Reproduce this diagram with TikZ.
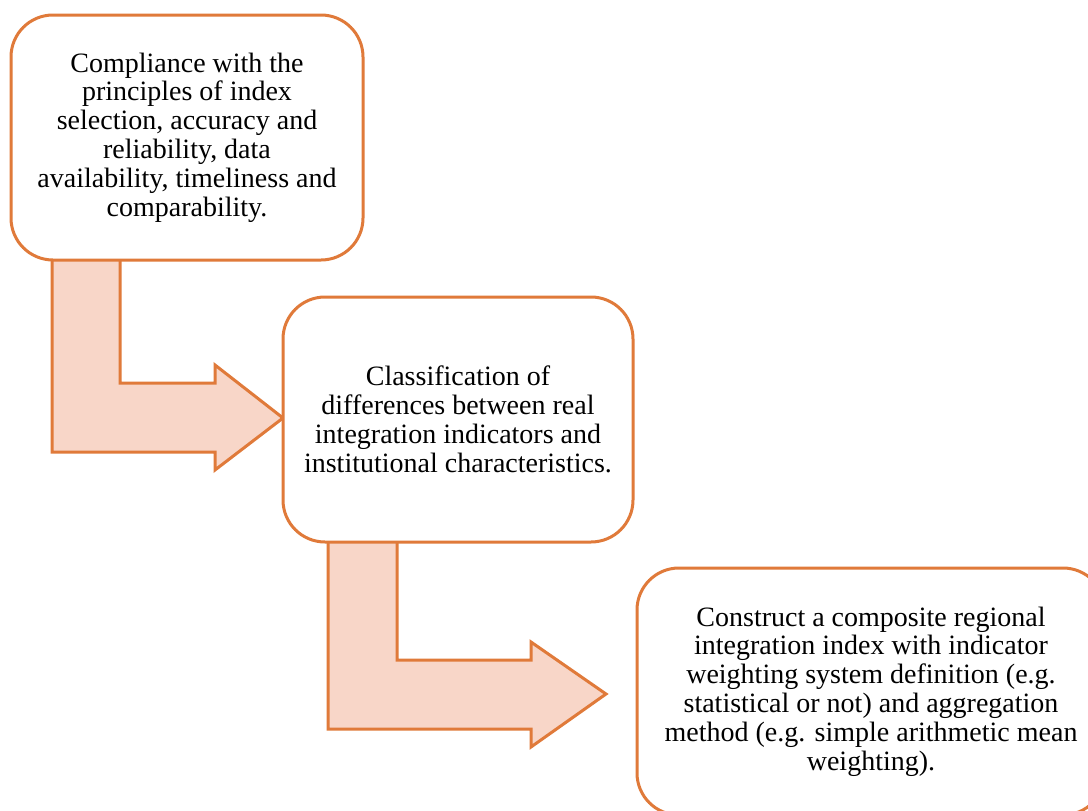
\documentclass[tikz,border=0pt]{standalone}
\usepackage{fontspec}
\setmainfont{Liberation Serif}
\definecolor{edge}{HTML}{E07A3A}
\definecolor{peach}{HTML}{F8D6C8}
\tikzset{
  stepbox/.style={draw=edge, line width=3pt, fill=white, rounded corners=42pt,
    inner sep=0pt, align=center,
    font=\fontsize{28pt}{28.8pt}\selectfont},
  bentarrow/.style={draw=edge, line width=3pt, fill=peach, line join=miter}
}
\begin{document}
\begin{tikzpicture}[x=1pt,y=-1pt]
\clip (0,0) rectangle (1088,811);
\fill[white] (0,0) rectangle (1088,811);
% arrows (behind boxes)
\coordinate (t1) at (283,418);
\coordinate (t2) at (606,694);
\draw[bentarrow] (52,258) -- (120,258) -- (120,383) -- (215,383) -- (215,365)
  -- (t1) -- (215,470) -- (215,452) -- (52,452) -- cycle;
\draw[bentarrow] (328,540) -- (397,540) -- (397,660) -- (531,660) -- (531,642)
  -- (t2) -- (531,747) -- (531,729) -- (328,729) -- cycle;
% boxes
\node[stepbox, minimum width=352pt, minimum height=245pt] (b1) at (187,137.5)
  {Compliance with the\\principles of index\\selection, accuracy and\\reliability, data\\availability, timeliness and\\comparability.};
\node[stepbox, minimum width=350pt, minimum height=245pt] (b2) at (458,419.5)
  {Classification of\\differences between real\\integration indicators and\\institutional characteristics.};
\node[stepbox, minimum width=468pt, minimum height=247pt] (b3) at (871,691.5)
  {Construct a composite regional\\integration index with indicator\\weighting system definition (e.g.\\statistical or not) and aggregation\\method (e.g. simple arithmetic mean\\weighting).};
\end{tikzpicture}
\end{document}
